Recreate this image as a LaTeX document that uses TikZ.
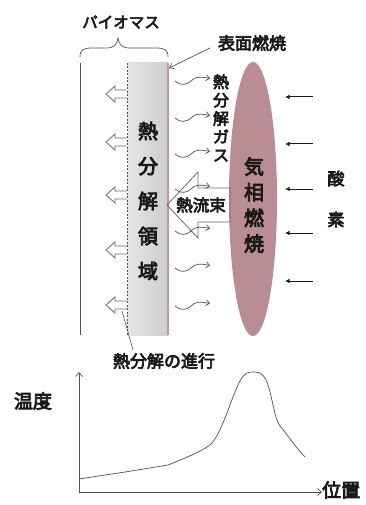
\documentclass[tikz,border=0pt]{standalone}
\usepackage{fontspec}
\newfontfamily\jp{Noto Sans CJK JP}[FakeBold=4]
\usetikzlibrary{arrows.meta,shapes.geometric}
\definecolor{flame}{RGB}{186,140,147}
\definecolor{edgepink}{RGB}{196,150,156}
\definecolor{ink}{RGB}{25,25,25}
\definecolor{wire}{RGB}{80,80,80}
\tikzset{
  lbl/.style={font=\jp, text=ink, inner sep=0pt},
  vstack/.style={lbl, align=center},
  hollowarrow/.style={draw=gray!85!black, line width=0.8pt, line join=miter},
  gasarrow/.style={draw=wire, line width=0.7pt, -{Straight Barb[length=3.5pt,width=6pt]}},
  oxarrow/.style={draw=ink, line width=1pt, -{Latex[length=4.5pt,width=4.5pt]}},
  axisline/.style={draw=wire, line width=0.7pt, -{Straight Barb[length=4pt,width=7pt]}},
  leader/.style={draw=wire, line width=0.6pt}
}
\begin{document}
\begin{tikzpicture}[x=1pt,y=-1pt]
\useasboundingbox[fill=white] (0,0) rectangle (366,505);

% biomass slab: outer face, reaction front and pyrolysis zone
\draw[wire, line width=0.7pt] (80,63) coordinate (outerTop) -- (80,335) coordinate (outerBot);
\shade[left color=gray!20, middle color=gray!5, right color=gray!40]
  (128,63) rectangle (168,335);
\node[inner sep=0pt, minimum width=40pt, minimum height=272pt, anchor=north west] (zone) at (128,63) {};
\draw[edgepink, line width=1.6pt] (168,63) -- (168,335);
\draw[wire, dash pattern=on 2pt off 1.5pt, line width=0.6pt] (127,63) coordinate (frontTop) -- (127,335) coordinate (frontBot);

% brace over the biomass with its title
\draw[wire, line width=0.7pt]
  (80,57) .. controls (80,50) and (83,48) .. (92,48) -- (106,48)
  .. controls (114,48) and (117,45) .. (118,38)
  .. controls (119,45) and (122,48) .. (130,48) -- (156,48)
  .. controls (165,48) and (168,50) .. (168,57);
\node[lbl, font=\jp\fontsize{15.5pt}{15.5pt}\selectfont] (biomass) at (121,22) {パイオマス};

% vertical labels
\node[vstack, font=\jp\fontsize{20pt}{35pt}\selectfont] (zoneText) at (148,201) {熱\\分\\解\\領\\域};
\node[vstack, font=\jp\fontsize{16pt}{18.3pt}\selectfont] (gasText) at (221,118) {熱\\分\\解\\ガ\\ス};

% flame sheet
\node[ellipse, fill=flame, minimum width=48pt, minimum height=274pt, inner sep=0pt] (flame) at (253,199) {};
\node[vstack, font=\jp\fontsize{20pt}{25.7pt}\selectfont] (flameText) at (254,205) {気\\相\\燃\\焼};

% oxygen supply
\foreach \yy [count=\i] in {97,144,189,233,281} {
  \coordinate (oxS\i) at (313,\yy);
  \coordinate (oxE\i) at (285,\yy);
  \draw[oxarrow] (oxS\i) -- (oxE\i);
}
\node[vstack, font=\jp\fontsize{17pt}{41pt}\selectfont] (oxText) at (336,199) {酸\\素};

% surface combustion label
\node[lbl, font=\jp\fontsize{17pt}{17pt}\selectfont] (surface) at (252,43) {表面燃焼};
\coordinate (surfTip) at (169,68);
\draw[wire, line width=0.7pt, -{Straight Barb[length=4pt,width=6pt]}] (210,48) -- (surfTip);

% heat flux arrow
\draw[hollowarrow] (230,188) -- (198,188) -- (198,172) -- (167,205)
  -- (198,238) -- (198,222) -- (230,222) -- cycle;
\node[lbl, font=\jp\fontsize{16.5pt}{16.5pt}\selectfont] (flux) at (201,205) {熱流束};

% escaping pyrolysis gas
\foreach \yy [count=\i] in {80,117,153,188,230,267,305} {
  \coordinate (gasS\i) at (175,\yy+1);
  \coordinate (gasE\i) at (210,\yy-1.5);
  \draw[gasarrow] (gasS\i) .. controls (180,\yy+6) and (187,\yy+5) .. (191,\yy+1)
    .. controls (195,\yy-3.5) and (200,\yy-3.5) .. (gasE\i);
}

% inward heat conduction into the solid
\foreach \yy in {94,142,195,250,305} {
  \draw[hollowarrow]
    (127,\yy-4) -- (115,\yy-4) -- (115,\yy-8) -- (106,\yy) -- (115,\yy+8) -- (115,\yy+4) -- (127,\yy+4);
}

% progress of pyrolysis
\node[lbl, font=\jp\fontsize{17pt}{17pt}\selectfont] (progress) at (164,361) {熱分解の進行};
\coordinate (progTip) at (122,311);
\draw[leader] (progTip) -- (133,350);

% temperature profile
\coordinate (origin) at (79,492);
\coordinate (yEnd) at (79,372);
\coordinate (xEnd) at (322,492);
\draw[axisline] (origin) -- (yEnd);
\draw[axisline] (origin) -- (xEnd);
\node[lbl, font=\jp\fontsize{19pt}{19pt}\selectfont] (temp) at (33,401) {温度};
\node[lbl, font=\jp\fontsize{19pt}{19pt}\selectfont, anchor=west] (pos) at (322,490) {位置};
\draw[wire, line width=0.7pt, line join=round]
  (79,479) -- (125,472) -- (168,465)
  .. controls (190,456) and (205,450) .. (212,443)
  .. controls (224,428) and (232,395) .. (240,381)
  .. controls (245,372) and (248,372) .. (254,372)
  .. controls (262,372) and (266,376) .. (270,392)
  .. controls (274,408) and (275,418) .. (280,426)
  .. controls (290,438) and (296,448) .. (305,457);
\end{tikzpicture}
\end{document}
